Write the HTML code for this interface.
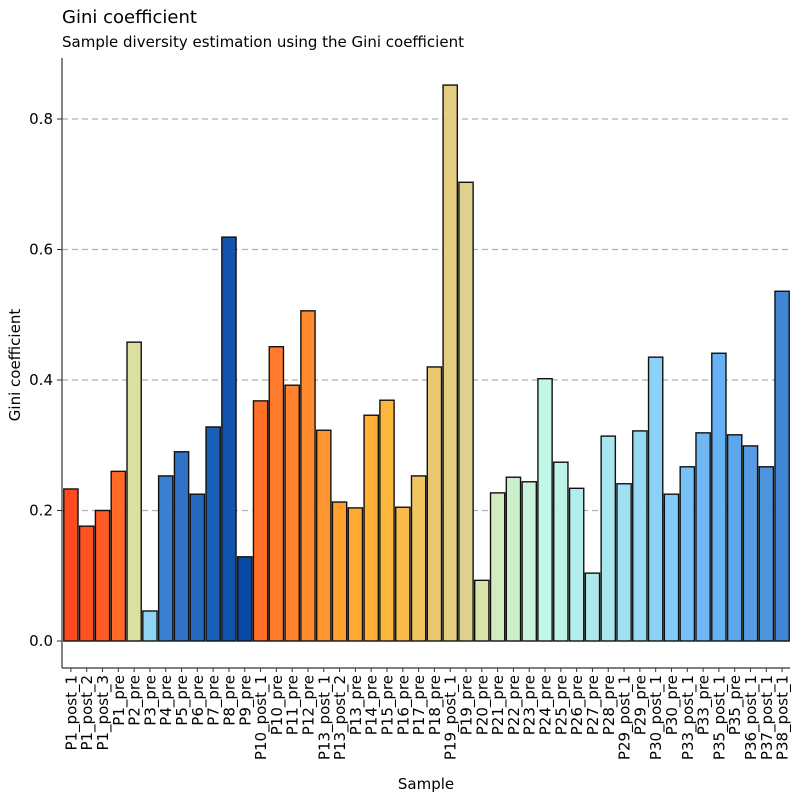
<!DOCTYPE html>
<html><head><meta charset="utf-8"><style>
body{margin:0;background:#fff;}
svg text{font-family:"DejaVu Sans","Liberation Sans",sans-serif;fill:#000;}
</style></head><body>
<svg id="chart" width="800" height="800" xmlns="http://www.w3.org/2000/svg">
<text x="62" y="23" font-size="18">Gini coefficient</text>
<text x="62" y="47" font-size="15">Sample diversity estimation using the Gini coefficient</text>
<g id="grid"></g><g id="bars"></g><g id="axes"></g>
<text x="426" y="789" font-size="15" text-anchor="middle">Sample</text>
<text transform="translate(20,365) rotate(-90)" font-size="15" text-anchor="middle">Gini coefficient</text>
</svg>
<script>
const categories=["P1_post_1","P1_post_2","P1_post_3","P1_pre","P2_pre","P3_pre","P4_pre","P5_pre","P6_pre","P7_pre","P8_pre","P9_pre","P10_post_1","P10_pre","P11_pre","P12_pre","P13_post_1","P13_post_2","P13_pre","P14_pre","P15_pre","P16_pre","P17_pre","P18_pre","P19_post_1","P19_pre","P20_pre","P21_pre","P22_pre","P23_pre","P24_pre","P25_pre","P26_pre","P27_pre","P28_pre","P29_post_1","P29_pre","P30_post_1","P30_pre","P33_post_1","P33_pre","P35_post_1","P35_pre","P36_post_1","P37_post_1","P38_post_1"];
const values=[0.233,0.176,0.200,0.260,0.458,0.046,0.253,0.290,0.225,0.328,0.619,0.129,0.368,0.451,0.392,0.506,0.323,0.213,0.204,0.346,0.369,0.205,0.253,0.420,0.852,0.703,0.093,0.227,0.251,0.244,0.402,0.274,0.234,0.104,0.314,0.241,0.322,0.435,0.225,0.267,0.319,0.441,0.316,0.299,0.267,0.536];
const colors=["#ff4a1f","#ff5222","#ff5a24","#ff6a26","#dbdfa0","#90d4f4","#3a80d0","#2f72c6","#256abe","#1a5fb6","#1054ae","#0848a6","#ff7026","#ff7a2a","#ff822c","#ff8a2e","#ff952e","#ffa030","#ffa833","#ffb035","#fdb63c","#f8bb4a","#f0c45e","#eac870","#e4cc80","#e0d08e","#d9e2a8","#d2ecc0","#ccf0cc","#c8f4da","#c2f6e8","#bcf2e8","#b4eceb","#ace8ec","#a8e6f0","#a0e0f2","#96daf4","#8cd2f8","#82caf8","#78c0f8","#6eb8f6","#66b0f4","#5ea6ec","#569ce4","#4e94dc","#4286d6"];
const yTicks=[0,0.2,0.4,0.6,0.8];
const yTickLabels=["0.0","0.2","0.4","0.6","0.8"];
const NS="http://www.w3.org/2000/svg";
const L=62,R=790,T=58,B=668;
const y0=641,yScale=652.5;
function y(v){return y0-v*yScale;}
const step=(R-L-1)/categories.length;
function x(i){return L+1+step*i;}
function mk(tag,attrs,parent){const e=document.createElementNS(NS,tag);for(const k in attrs)e.setAttribute(k,attrs[k]);parent.appendChild(e);return e;}
const grid=document.getElementById('grid'),bars=document.getElementById('bars'),axes=document.getElementById('axes');
yTicks.forEach((t,i)=>{
 if(t>0){const g=mk('line',{x1:L,x2:R,y1:y(t),y2:y(t),stroke:'#b0b0b0','stroke-width':1.2,'stroke-dasharray':'6,4'},grid);
 
 }
 const tk=mk('line',{x1:L-5,x2:L,y1:y(t),y2:y(t),stroke:'#333','stroke-width':1},axes);
 
 
 const lb=mk('text',{x:L-9,y:y(t)+5,'font-size':15,'text-anchor':'end'},axes);
 lb.textContent=yTickLabels[i];
 
 
});
categories.forEach((c,i)=>{
 const w=step*0.9,bx=x(i)+(step-w)/2;
 const r=mk('rect',{x:bx,y:y(values[i]),width:w,height:y(0)-y(values[i]),fill:colors[i],stroke:'#111','stroke-width':1.4},bars);
 
 
 const cx=x(i)+step/2;
 const tk=mk('line',{x1:cx,x2:cx,y1:B,y2:B+4,stroke:'#333','stroke-width':1},axes);
 
 
 const lb=mk('text',{transform:`translate(${cx+5.5},${B+7}) rotate(-90)`,'font-size':15,'text-anchor':'end'},axes);
 lb.textContent=c;
 
 
});
const ya=mk('line',{x1:L,x2:L,y1:T,y2:B,stroke:'#333','stroke-width':1.2},axes);


const xa=mk('line',{x1:L,x2:R,y1:B,y2:B,stroke:'#333','stroke-width':1.2},axes);


</script>
</body></html>
